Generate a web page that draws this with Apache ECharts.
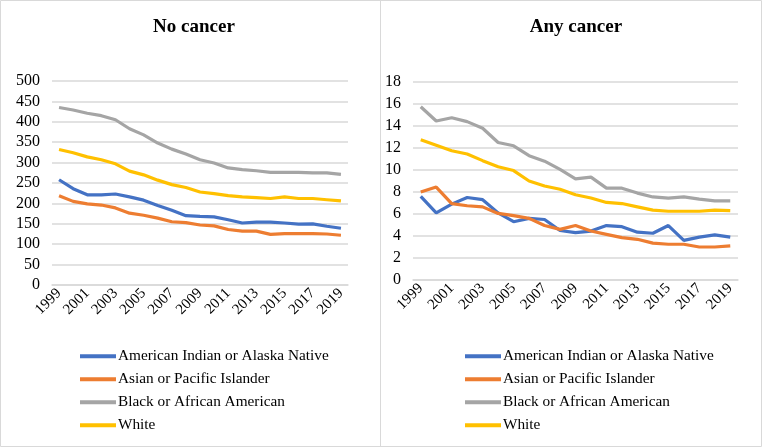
<!DOCTYPE html>
<html><head><meta charset="utf-8">
<script src="https://cdn.jsdelivr.net/npm/echarts@6/dist/echarts.min.js"></script>
<style>html,body{margin:0;padding:0;background:#fff}#c{width:762px;height:448px}</style>
</head><body><div id="c"></div>
<script>
const years = ['1999','2000','2001','2002','2003','2004','2005','2006','2007','2008','2009','2010','2011','2012','2013','2014','2015','2016','2017','2018','2019'];
const seriesNames = ['American Indian or Alaska Native','Asian or Pacific Islander','Black or African American','White'];
const colors = ['#4472C4','#ED7D31','#A5A5A5','#FFC000'];
const titles = ['No cancer','Any cancer'];

// No cancer
const noAIAN = [258,236,221,221,223,216,208,195,183,170,168,167,160,152,154,154,152,149,150,144,139];
const noAPI  = [219,205,199,196,189,176,171,164,155,153,147,145,136,132,132,124,126,126,126,125,122];
const noBlack= [435,429,421,415,405,383,368,348,333,321,307,299,287,283,280,276,276,276,275,275,271];
const noWhite= [332,324,314,307,297,279,270,257,246,239,228,224,219,216,214,212,216,212,212,209,206];

// Any cancer
const anyAIAN = [7.6,6.1,6.9,7.5,7.3,6.1,5.3,5.6,5.5,4.5,4.3,4.45,4.95,4.85,4.35,4.25,4.95,3.6,3.9,4.1,3.9];
const anyAPI  = [8.0,8.45,6.95,6.75,6.65,6.05,5.85,5.6,4.95,4.6,4.95,4.45,4.15,3.85,3.7,3.35,3.25,3.25,3.0,3.0,3.1];
const anyBlack= [15.75,14.45,14.75,14.4,13.8,12.5,12.2,11.3,10.8,10.05,9.2,9.35,8.35,8.35,7.9,7.55,7.45,7.55,7.35,7.2,7.2];
const anyWhite= [12.75,12.25,11.75,11.45,10.85,10.3,9.95,9.0,8.55,8.25,7.75,7.45,7.05,6.95,6.65,6.35,6.25,6.25,6.25,6.35,6.3];

const yMax = [500,18], yInt = [50,2];
const data = [[noAIAN,noAPI,noBlack,noWhite],[anyAIAN,anyAPI,anyBlack,anyWhite]];

const font = '"Liberation Serif","Times New Roman",serif';
const chart = echarts.init(document.getElementById('c'));
const grids = [{left:52,top:81,width:296,height:204},{left:413,top:82,width:325,height:198}];
const series = [];
data.forEach((set,gi)=>set.forEach((vals,si)=>series.push({
  name: seriesNames[si], type:'line', xAxisIndex:gi, yAxisIndex:gi, data: vals,
  symbol:'none', smooth:false, lineStyle:{width:3.2,color:colors[si]}, itemStyle:{color:colors[si]}
})));
chart.setOption({
  animation:false,
  color: colors,
  title: titles.map((t,i)=>({text:t,left:i===0?189:571,top:13,textAlign:'center',
    textStyle:{fontFamily:font,fontWeight:'bold',fontSize:19,color:'#000'}})),
  graphic:[
    {type:'rect',shape:{x:0.5,y:0.5,width:761,height:446},style:{fill:'none',stroke:'#d9d9d9',lineWidth:1}},
    {type:'line',shape:{x1:380.5,y1:0,x2:380.5,y2:447},style:{stroke:'#d9d9d9',lineWidth:1}}
  ],
  legend:[80,465].map(x=>({orient:'vertical',left:x,top:348,padding:0,itemWidth:36,itemHeight:4,itemGap:6.5,icon:'rect',
    data:seriesNames,textStyle:{fontFamily:font,fontSize:15.3,color:'#000',padding:[0,0,0,-3],lineHeight:16.5}})),
  grid: grids,
  xAxis: grids.map((g,i)=>({type:'category',gridIndex:i,data:years,boundaryGap:true,
    axisLine:{show:true,lineStyle:{color:'#d9d9d9',width:1.5}},axisTick:{show:false},
    axisLabel:{interval:1,rotate:45,fontFamily:font,fontSize:15,color:'#000',margin:6}})),
  yAxis: grids.map((g,i)=>({type:'value',gridIndex:i,min:0,max:yMax[i],interval:yInt[i],
    axisLine:{show:false},axisTick:{show:false},
    splitLine:{lineStyle:{color:'#d9d9d9',width:1.5}},
    axisLabel:{fontFamily:font,fontSize:16,color:'#000',margin:12}})),
  series: series
});
</script></body></html>
